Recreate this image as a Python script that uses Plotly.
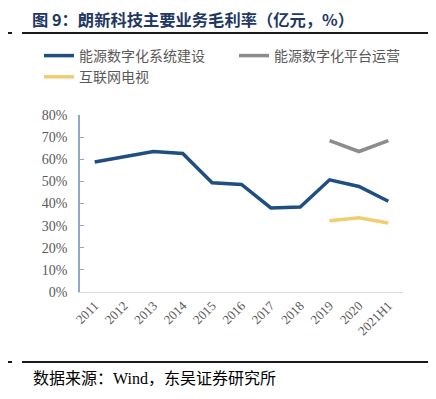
import plotly.graph_objects as go

categories = ["2011", "2012", "2013", "2014", "2015", "2016", "2017", "2018", "2019", "2020", "2021H1"]
system_build = [58.8, 61.0, 63.5, 62.6, 49.4, 48.6, 38.0, 38.4, 50.7, 47.7, 41.0]
platform_ops = [None, None, None, None, None, None, None, None, 68.4, 63.5, 68.4]
iptv = [None, None, None, None, None, None, None, None, 32.2, 33.5, 31.2]
series_names = ["能源数字化系统建设", "能源数字化平台运营", "互联网电视"]
y_ticks = [0, 10, 20, 30, 40, 50, 60, 70, 80]
y_tick_labels = ["0%", "10%", "20%", "30%", "40%", "50%", "60%", "70%", "80%"]

# page body has an 8px default margin; lay out in window pixels, then offset
OFF = 8
W, H = 436 - OFF, 399 - OFF
# target plot area in window pixels: x 80..403, y 115..292
ml, mr = 80 - OFF, 436 - 403
mt, mb = 115 - OFF, 399 - 292
pw = W - ml - mr
ph = H - mt - mb

fig = go.Figure()
colors = ["#1F4E80", "#8C8C8C", "#F0CD6E"]
for name, vals, c in zip(series_names, [system_build, platform_ops, iptv], colors):
    fig.add_trace(go.Scatter(x=categories, y=vals, name=name, mode="lines",
                             line=dict(color=c, width=3.5), connectgaps=False))

def px_x(p):
    return (p - OFF - ml) / pw

def px_y(p):
    return (H - mb - (p - OFF)) / ph

fig.update_layout(
    width=W, height=H,
    margin=dict(l=ml, r=mr, t=mt, b=mb, autoexpand=False),
    plot_bgcolor="white", paper_bgcolor="white",
    showlegend=True,
    legend=dict(orientation="h", x=px_x(39), y=px_y(40), xanchor="left", yanchor="top",
                entrywidth=150, entrywidthmode="pixels", traceorder="normal",
                font=dict(family="Noto Sans CJK SC", size=14, color="#595959"),
                itemwidth=30, tracegroupgap=0, bgcolor="rgba(0,0,0,0)"),
    xaxis=dict(type="category", range=[-0.5, len(categories) - 0.5],
               showgrid=False, showline=True, linecolor="#D9D9D9", linewidth=1,
               tickangle=-45, ticks="", automargin=False,
               tickfont=dict(family="Liberation Serif", size=13, color="#595959")),
    yaxis=dict(range=[0, 80], tickvals=y_ticks, ticktext=y_tick_labels, showgrid=False, zeroline=False,
               showline=True, linecolor="#8EA9C8", linewidth=1.5, automargin=False,
               ticks="inside", ticklen=4, tickcolor="#8EA9C8", ticklabelstandoff=8,
               tickfont=dict(family="Liberation Serif", size=14, color="#595959")),
    annotations=[
        dict(text="<b>图 9：朗新科技主要业务毛利率（亿元，%）</b>", xref="paper", yref="paper",
             x=px_x(31), y=px_y(19), xanchor="left", yanchor="middle", showarrow=False, borderpad=0,
             font=dict(family="Noto Sans CJK SC", size=16.3, color="#1F3864")),
        dict(text="数据来源：<span style='font-family:Liberation Serif'>Wind</span>，东吴证券研究所",
             xref="paper", yref="paper",
             x=px_x(31), y=px_y(377), xanchor="left", yanchor="middle", showarrow=False,
             font=dict(family="Noto Sans CJK SC", size=16, color="#000000")),
    ],
    shapes=[
        dict(type="line", xref="paper", yref="paper", x0=px_x(22), x1=px_x(436), y0=px_y(33), y1=px_y(33),
             line=dict(color="#1A1A1A", width=2)),
        dict(type="line", xref="paper", yref="paper", x0=px_x(8), x1=px_x(12), y0=px_y(33), y1=px_y(33),
             line=dict(color="#1A1A1A", width=2)),
        dict(type="line", xref="paper", yref="paper", x0=px_x(22), x1=px_x(436), y0=px_y(362), y1=px_y(362),
             line=dict(color="#1A1A1A", width=2)),
        dict(type="line", xref="paper", yref="paper", x0=px_x(8), x1=px_x(12), y0=px_y(362), y1=px_y(362),
             line=dict(color="#1A1A1A", width=2)),
    ],
)

fig.write_html("out.html")
